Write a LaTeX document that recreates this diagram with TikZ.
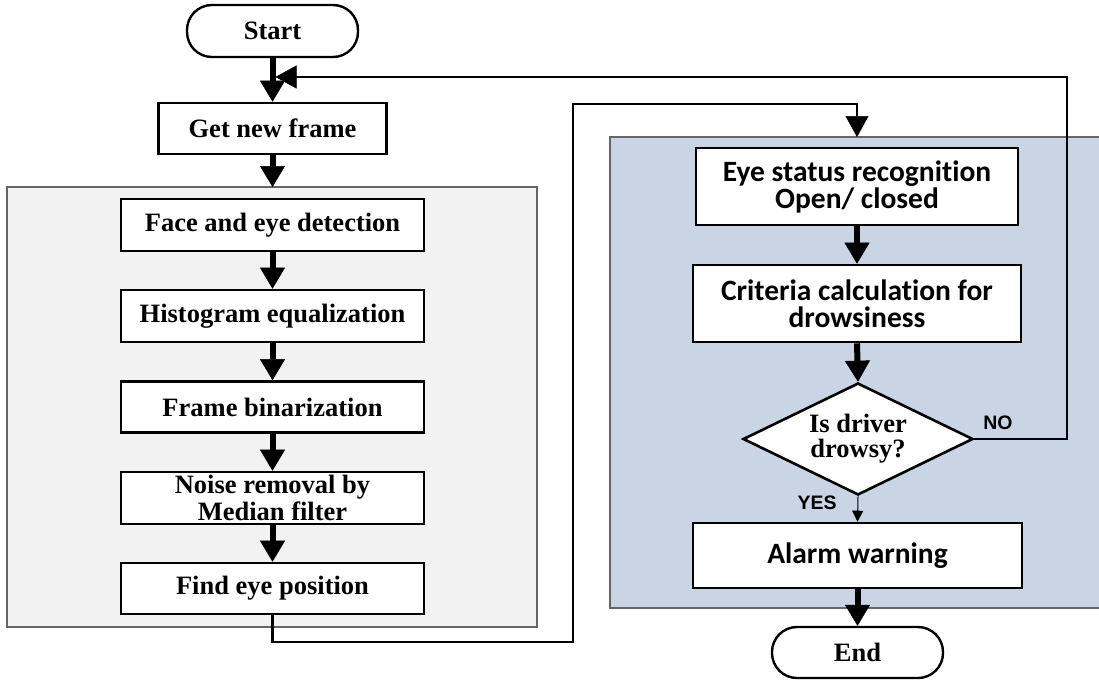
\documentclass[tikz,border=0pt]{standalone}
\usepackage{fontspec}
\newfontfamily\tnrfont{Liberation Serif}
\newfontfamily\calfont[Ligatures={NoCommon}]{Carlito}
\newfontfamily\arifont{Liberation Sans}
\usetikzlibrary{arrows.meta,shapes.geometric}
\definecolor{grayfill}{HTML}{F2F2F2}
\definecolor{bluefill}{HTML}{C9D5E5}
\definecolor{frameedge}{HTML}{666666}
\begin{document}
\begin{tikzpicture}[x=1pt,y=-1pt,
  tnr/.style={font=\tnrfont\bfseries\fontsize{26.5}{27}\selectfont},
  cal/.style={font=\calfont\bfseries\fontsize{29.5}{27}\selectfont},
  tbox/.style={draw,line width=2.6pt,fill=white,inner sep=0pt,align=center,tnr},
  cbox/.style={draw,line width=2.6pt,fill=white,inner sep=0pt,align=center,cal},
  term/.style={draw,line width=2.4pt,fill=white,rounded corners=25pt,inner sep=0pt,align=center,tnr,minimum width=171pt,minimum height=52pt},
  decision/.style={draw,diamond,line width=2.6pt,fill=white,inner sep=0pt,align=center,
    font=\tnrfont\bfseries\fontsize{26.5}{25}\selectfont,aspect=2.05,minimum width=230pt,minimum height=112pt},
  bigarrow/.style={line width=6pt,-{Triangle[width=25pt,length=21pt,line width=0.5pt]}},
  thinarrow/.style={line width=2.5pt,-{Triangle[width=23pt,length=21pt,line width=0.5pt]}},
  tinyarrow/.style={line width=1pt,-{Triangle[width=11pt,length=11pt,line width=0.5pt]}},
  lbl/.style={font=\arifont\bfseries\fontsize{19.5}{22}\selectfont,inner sep=0pt},
  region/.style={line width=1.3pt,draw=frameedge}]
\useasboundingbox (0,0) rectangle (1099,680);
% background regions
\fill[grayfill] (7,187) rectangle (537,627);
\draw[region] (7,187) rectangle (537,627);
\fill[bluefill] (610,137) rectangle (1099,608);
\draw[region] (1100,137) -- (610,137) -- (610,608) -- (1100,608);

% nodes
\node[term] (start) at (272.5,31) {Start};
\node[tbox,minimum width=228pt,minimum height=51pt] (getframe) at (272.5,128.5) {Get new frame};
\node[tbox,minimum width=303pt,minimum height=52pt] (face) at (272.5,225) {Face and eye detection};
\node[tbox,minimum width=303pt,minimum height=52pt] (hist) at (272.5,316) {Histogram equalization};
\node[tbox,minimum width=303pt,minimum height=51pt] (bin) at (272.5,407) {Frame binarization};
\node[tbox,minimum width=303pt,minimum height=52pt] (noise) at (272.5,498) {Noise removal by\\Median filter};
\node[tbox,minimum width=303pt,minimum height=51pt] (findeye) at (272.5,588.5) {Find eye position};

\node[cbox,minimum width=322pt,minimum height=77pt] (eyestat) at (857,186.5) {Eye status recognition\\Open/ closed};
\node[cbox,minimum width=328pt,minimum height=77pt] (crit) at (857,303.5) {Criteria calculation for\\drowsiness};
\node[decision] (dec) at (858,439) {Is driver\\drowsy?};
\node[cbox,minimum width=329pt,minimum height=65pt] (alarm) at (857.5,555.5) {Alarm warning};
\node[term,minimum height=51pt] (end) at (857.5,652.5) {End};

\node[lbl] (nolbl) at (998,423) {NO};
\node[lbl] (yeslbl) at (817,503) {YES};

% free ends of connectors
\coordinate (graytop) at (272.5,187);
\coordinate (bluetop) at (857,137);
\coordinate (loopin) at (275.5,77);

% connectors
\draw[bigarrow] (start.south) -- (getframe.north);
\draw[bigarrow] (getframe.south) -- (graytop);
\draw[bigarrow] (face.south) -- (hist.north);
\draw[bigarrow] (hist.south) -- (bin.north);
\draw[bigarrow] (bin.south) -- (noise.north);
\draw[bigarrow] (noise.south) -- (findeye.north);
\draw[thinarrow] (findeye.south) -- (272.5,642) -- (573,642) -- (573,104) -- (857,104) -- (bluetop);
\draw[bigarrow] (eyestat.south) -- (crit.north);
\draw[bigarrow] (crit.south) -- (dec.north);
\draw[tinyarrow] (dec.south) -- (alarm.north);
\draw[bigarrow] (alarm.south) -- (end.north);
\draw[thinarrow] (dec.east) -- (1067,439) -- (1067,77) -- (loopin);
\end{tikzpicture}
\end{document}
